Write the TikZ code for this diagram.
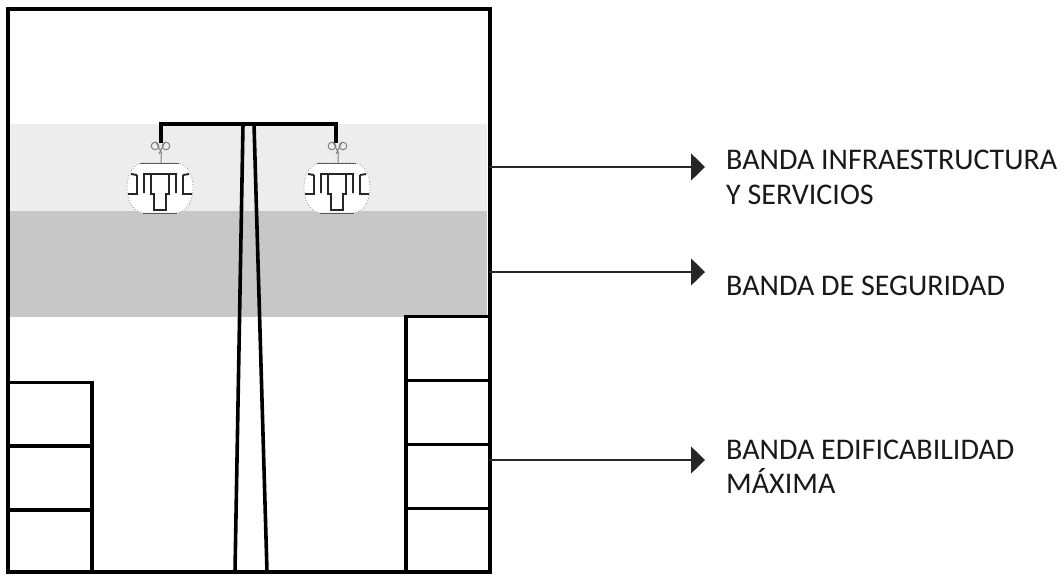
\documentclass[tikz,border=0pt]{standalone}
\usepackage{fontspec}
\setmainfont{Carlito}
\usetikzlibrary{arrows.meta}
\tikzset{
  wall/.style={draw=black,line width=4pt,line join=miter,outer sep=0pt},
  partline/.style={draw=black,line width=3.2pt},
  pole/.style={draw=black,line width=3.6pt},
  leader/.style={draw=black!85,line width=1.4pt,-{Triangle[length=14pt,width=27pt]}},
  labeltext/.style={anchor=north west,align=left,inner sep=0pt,font=\fontsize{30}{34.5}\selectfont,text=black!90},
  cabshell/.style={draw=black!45,line width=0.8pt,dotted,fill=white},
  cabline/.style={draw=black!85,line width=1.9pt},
  hanger/.style={draw=black!50,line width=1pt},
}
\newcommand{\gondola}[2]{%
  \begin{scope}[shift={(#1,#2)}]
    \draw[cabshell] (-17,-25) .. controls (-28,-24) and (-33,-12) .. (-33,0)
      .. controls (-33,12) and (-28,23) .. (-17,25) -- (17,25)
      .. controls (28,23) and (33,12) .. (33,0)
      .. controls (33,-12) and (28,-24) .. (17,-25) -- cycle;
    \draw[draw=black!65,line width=1pt] (-20,-25) -- (19,-25) (-17,25) -- (17,25);
    \draw[hanger] (-5,-42) circle (3.8) (6,-42) circle (3.8);
    \draw[hanger] (-4,-46) -- (2,-34) (5,-46) -- (-1,-34) (1,-34) -- (1,-25);
    \draw[cabline] (-17,-14) -- (17,-14)
      (-9,-14) -- (-9,6) -- (-6,6) -- (-6,22) -- (6,22) -- (6,6) -- (9,6) -- (9,-14)
      (-16,-14) -- (-16,5) (16,-14) -- (16,5)
      (-23,-13) -- (-23,6) -- (-32,6)
      (-23,-13) -- (-29,-14)
      (23,-13) -- (23,6) -- (32,6)
      (23,-13) -- (29,-14);
  \end{scope}}
\begin{document}
\begin{tikzpicture}[x=1pt,y=-1pt]
\useasboundingbox (0,0) rectangle (1064,576);
\fill[white] (0,0) rectangle (1064,576);
% bands
\fill[black!7] (10,124) rectangle (487,211);
\fill[black!22] (10,211) rectangle (487,317);
% frame
\node[wall,minimum width=481.5pt,minimum height=563pt,inner sep=0pt,anchor=north west] (frame) at (8,9) {};
% pole
\draw[pole] (243,124) -- (235,572);
\draw[pole] (254,124) -- (267,572);
\draw[pole,line cap=butt] (161,143) -- (161,124) -- (336,124) -- (336,143);
% gondolas
\gondola{160}{188}
\gondola{337}{188}
% left building
\draw[partline] (8,382.5) -- (92,382.5) -- (92,572);
\draw[partline] (8,446) -- (92,446);
\draw[partline] (8,510) -- (92,510);
% right building
\draw[partline] (489,316.5) -- (406,316.5) -- (406,572);
\draw[partline] (406,380.5) -- (489,380.5);
\draw[partline] (406,444.5) -- (489,444.5);
\draw[partline] (406,508.5) -- (489,508.5);
% labels
\node[labeltext] (l1) at (726,150) {BANDA INFRAESTRUCTURA\\Y SERVICIOS};
\node[labeltext] (l2) at (726,276) {BANDA DE SEGURIDAD};
\node[labeltext] (l3) at (726,439.5) {BANDA EDIFICABILIDAD\\MÁXIMA};
% leaders
\coordinate (a1s) at (489,167); \coordinate (a1e) at (705,167);
\coordinate (a2s) at (489,272); \coordinate (a2e) at (705,272);
\coordinate (a3s) at (489,460); \coordinate (a3e) at (705,460);
\draw[leader] (a1s) -- (a1e);
\draw[leader] (a2s) -- (a2e);
\draw[leader] (a3s) -- (a3e);
\end{tikzpicture}
\end{document}
